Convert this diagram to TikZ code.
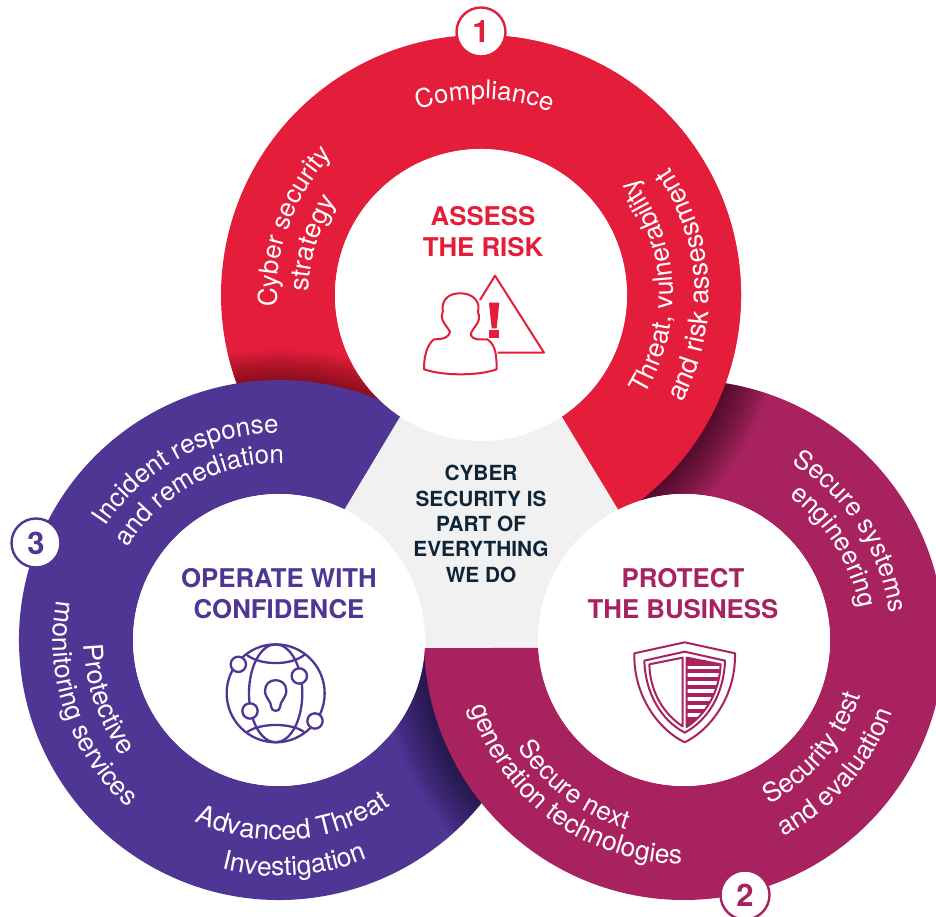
\documentclass[tikz,border=0pt]{standalone}
\usepackage{fontspec}
\setmainfont{TeX Gyre Heros}
\usetikzlibrary{decorations.text}
\definecolor{cred}{HTML}{E31D3A}
\definecolor{cpur}{HTML}{4F3594}
\definecolor{cmar}{HTML}{A92260}
\definecolor{cgry}{HTML}{F1F1F1}
\definecolor{cdrk}{HTML}{0F2537}
\newcommand{\ringsize}{26}
\newcommand{\ringfmt}{\fontsize{\ringsize}{\ringsize}\selectfont\color{white}}
% #1 centre, #2 radius, #3 mid angle, #4 half span, #5 text ; clockwise
\newcommand{\cwtext}[5]{\path[decorate,decoration={text along path,text align=center,text={|\ringfmt|#5}}]
  ([shift={(#3+#4:#2pt)}]#1) arc[start angle=#3+#4,end angle=#3-#4,radius=#2pt];}
\newcommand{\ccwtext}[5]{\path[decorate,decoration={text along path,text align=center,text={|\ringfmt|#5}}]
  ([shift={(#3-#4:#2pt)}]#1) arc[start angle=#3-#4,end angle=#3+#4,radius=#2pt];}
% #1 centre, outer start, outer end, inner end, inner start
\newcommand{\ringpath}[5]{([shift={(#2:260pt)}]#1) arc[start angle=#2,end angle=#3,radius=260pt]
  -- ([shift={(#4:146pt)}]#1) arc[start angle=#4,end angle=#5,radius=146pt] -- cycle}
\newcommand{\redring}{\ringpath{R}{-57.4}{236.5}{235.5}{-56.3}}
\newcommand{\purring}{\ringpath{P}{61.5}{357}{356}{63.4}}
\newcommand{\marring}{\ringpath{M}{181.8}{477}{475}{183.1}}
\newcommand{\shadow}[3]{\foreach \k in {1,...,#2}{\fill[black,opacity=#3] (#1) circle[radius=260pt+\k*2pt];}}
\tikzset{
  title/.style={font=\fontsize{25.8}{31}\selectfont\bfseries,align=center,inner sep=0pt},
  numdisc/.style={circle,fill=white,draw=#1,line width=2.4pt,minimum size=49pt,inner sep=0pt,text=#1,font=\fontsize{31}{31}\selectfont\bfseries},
  centretext/.style={font=\fontsize{20.8}{25.3}\selectfont\bfseries,align=center,text=cdrk,inner sep=0pt},
  iconline/.style={draw=#1,line width=2pt,line join=round,fill=none}
}
\begin{document}
\begin{tikzpicture}[x=1pt,y=1pt]
\useasboundingbox (0,0) rectangle (936,917);
\clip (0,0) rectangle (936,917);
\coordinate (R) at (481,622);
\coordinate (P) at (279,277);
\coordinate (M) at (684,277);
% grey centre
\fill[cgry] (401,502) -- (561,502) -- (620,405) -- (539,269) -- (424,269) -- (343,405) -- cycle;
% red ring with the shadow of the purple ring
\fill[cred] \redring;
\begin{scope}
  \clip \redring;
  \shadow{P}{15}{0.028}
\end{scope}
% purple ring with the shadow of the maroon ring
\fill[cpur] \purring;
\begin{scope}
  \clip \purring;
  \shadow{M}{22}{0.025}
\end{scope}
% maroon ring with the shadow of the red ring
\fill[cmar] \marring;
\begin{scope}
  \clip \marring;
  \shadow{R}{22}{0.028}
\end{scope}
% red over maroon
\begin{scope}
  \clip (481,0) rectangle (936,917);
  \fill[cred] \redring;
\end{scope}
% inner discs
\fill[white] (R) circle[radius=146pt];
\fill[white] (P) circle[radius=146pt];
\fill[white] (M) circle[radius=146pt];
% ring text: red
\renewcommand{\ringsize}{25.7}
\cwtext{R}{196}{89}{60}{Compliance}
\renewcommand{\ringsize}{26}
\cwtext{R}{204}{160}{60}{Cyber security}
\renewcommand{\ringsize}{27}
\cwtext{R}{172}{163}{70}{strategy}
\renewcommand{\ringsize}{26.5}
\ccwtext{R}{192}{3}{60}{Threat, vulnerability}
\renewcommand{\ringsize}{27.2}
\ccwtext{R}{228}{3}{60}{and risk assessment}
% ring text: maroon
\renewcommand{\ringsize}{26}
\cwtext{M}{207}{33}{60}{Secure systems}
\cwtext{M}{178}{32}{70}{engineering}
\renewcommand{\ringsize}{26.5}
\ccwtext{M}{185}{-40}{60}{Security test}
\renewcommand{\ringsize}{26}
\ccwtext{M}{220}{-41}{60}{and evaluation}
\ccwtext{M}{198}{233}{60}{Secure next}
\renewcommand{\ringsize}{26.5}
\ccwtext{M}{224}{233.5}{60}{generation technologies}
% ring text: purple
\renewcommand{\ringsize}{26}
\cwtext{P}{207}{118.5}{60}{Incident response}
\cwtext{P}{177}{118.5}{70}{and remediation}
\renewcommand{\ringsize}{27}
\ccwtext{P}{195}{199}{60}{Protective}
\renewcommand{\ringsize}{26.5}
\ccwtext{P}{226}{199}{60}{monitoring services}
\renewcommand{\ringsize}{27}
\ccwtext{P}{200}{274.5}{60}{Advanced Threat}
\renewcommand{\ringsize}{26.5}
\ccwtext{P}{236}{274}{60}{Investigation}
% titles
\node[title,text=cred] (t1) at (483,685.5) {ASSESS\\THE RISK};
\node[title,text=cpur] (t3) at (279,323.5) {OPERATE WITH\\CONFIDENCE};
\node[title,text=cmar] (t2) at (683,323.5) {PROTECT\\THE BUSINESS};
\node[centretext] (c) at (481,393) {CYBER\\SECURITY IS\\PART OF\\EVERYTHING\\WE DO};
% number discs
\node[numdisc=cred] (n1) at (481,885) {1};
\node[numdisc=cmar] (n2) at (745,22) {2};
\node[numdisc=cpur] (n3) at (36,374) {3};
% warning icon
\begin{scope}[shift={(400,657)},x=0.3333pt,y=-0.3333pt]
  \draw[iconline=cred] (240,120) -- (285,47) -- (432,278) -- (293,278);
  \fill[cred] (267,128) -- (298,128) -- (290,205) -- (275,205) -- cycle;
  \fill[cred] (267,210) rectangle (298,235);
  \draw[iconline=cred] (72,328) .. controls (130,348) and (235,348) .. (290,328)
    .. controls (290,290) and (288,255) .. (262,238) -- (232,238)
    .. controls (212,235) and (208,222) .. (218,210)
    .. controls (228,195) and (240,185) .. (237,165)
    .. controls (232,160) and (236,150) .. (235,135)
    .. controls (228,110) and (205,100) .. (180,100)
    .. controls (150,100) and (130,115) .. (128,140)
    .. controls (128,150) and (130,160) .. (125,168)
    .. controls (125,185) and (140,198) .. (150,215)
    .. controls (148,232) and (130,238) .. (102,238)
    .. controls (80,255) and (72,290) .. (72,328) -- cycle;
\end{scope}
% shield icon
\begin{scope}[shift={(610,287)},x=0.3333pt,y=-0.3333pt]
  \draw[iconline=cmar] (224,37) -- (375,70) .. controls (378,200) and (300,300) .. (224,337)
     .. controls (148,300) and (70,200) .. (73,70) -- cycle;
  \draw[iconline=cmar] (224,65) -- (345,92) .. controls (342,190) and (295,270) .. (224,308)
     .. controls (153,270) and (106,190) .. (103,92) -- cycle;
  \draw[iconline=cmar] (118,103) -- (218,83) -- (218,289) .. controls (165,255) and (120,190) .. (118,103) -- cycle;
  \begin{scope}
    \clip (230,83) -- (332,103) .. controls (328,190) and (285,255) .. (230,291) -- cycle;
    \fill[cmar] (225,80) rectangle (340,295);
    \foreach \y in {107,130,153,177,201,225,249}{\fill[white] (225,\y) rectangle (340,\y+11);}
  \end{scope}
  \draw[iconline=cmar] (230,83) -- (332,103) .. controls (328,190) and (285,255) .. (230,291) -- cycle;
\end{scope}
% globe icon
\begin{scope}[shift={(210,287)},x=0.3333pt,y=-0.3333pt]
  \draw[iconline=cpur,line width=2.3pt] (197,190) circle[x radius=147,y radius=147];
  \draw[iconline=cpur,line width=2.3pt] (197,190) circle[x radius=80,y radius=147];
  \draw[iconline=cpur,line width=2.3pt] (108,73) .. controls (150,108) and (245,108) .. (285,73);
  \draw[iconline=cpur,line width=2.3pt] (112,306) .. controls (150,278) and (245,278) .. (282,306);
  \foreach \x/\y in {85/103,268/138,120/243,315/273}{
    \draw[cpur,line width=2.3pt,fill=white] (\x,\y) circle[x radius=23,y radius=23];}
  \draw[iconline=cpur,line width=2.3pt] (184,232) .. controls (184,212) and (165,205) .. (165,182)
    .. controls (165,140) and (229,140) .. (229,182)
    .. controls (229,205) and (210,212) .. (210,232)
    .. controls (210,246) and (184,246) .. (184,232) -- cycle;
\end{scope}
\end{tikzpicture}
\end{document}
